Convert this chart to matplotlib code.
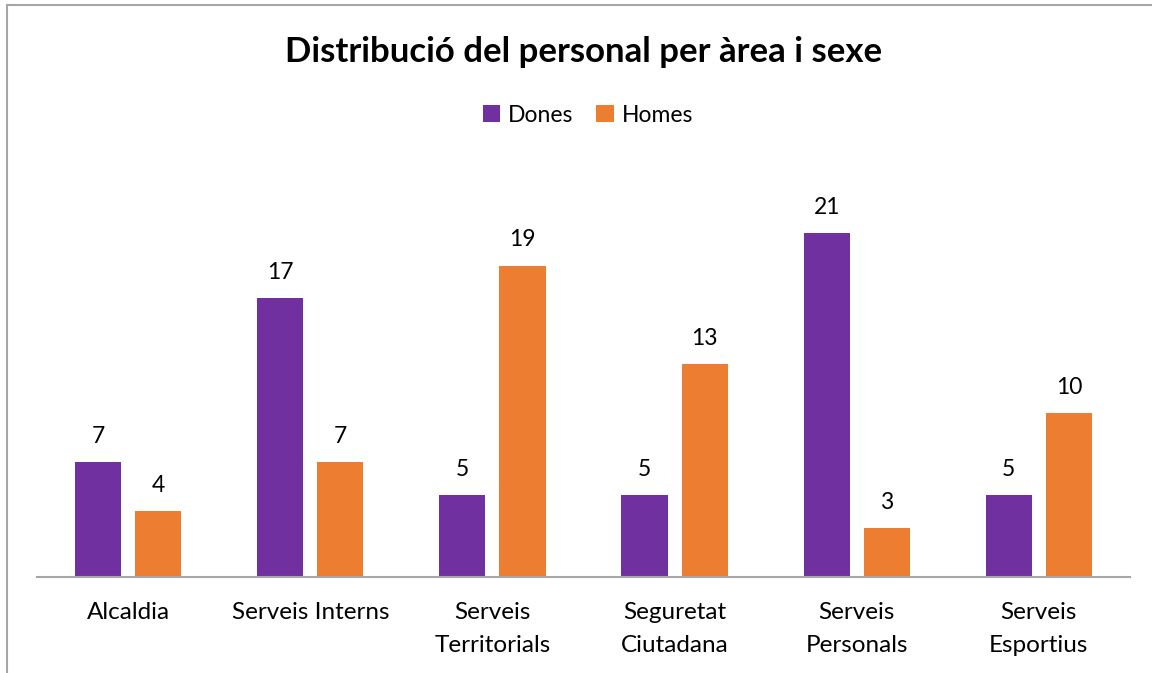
import numpy as np
import matplotlib.pyplot as plt
from matplotlib.patches import Rectangle

plt.rcParams['font.family'] = ['Lato', 'DejaVu Sans']

# Data
categories = ["Alcaldia", "Serveis Interns", "Serveis\nTerritorials",
              "Seguretat\nCiutadana", "Serveis\nPersonals", "Serveis\nEsportius"]
dones = [7, 17, 5, 5, 21, 5]
homes = [4, 7, 19, 13, 3, 10]

purple = '#7030A0'
orange = '#ED7D31'

fig = plt.figure(figsize=(11.52, 6.73), dpi=100)
ax = fig.add_axes([37 / 1152, 1 - 577 / 673, (1130 - 37) / 1152, (24 * 16.39) / 673])

# chart frame (cut off at right and bottom like the reference)
fig.patches.append(Rectangle((7 / 1152, -0.05), 1.1, 1 - 5 / 673 + 0.05,
                             transform=fig.transFigure, fill=False,
                             edgecolor='#A6A6A6', linewidth=1.5))

x = np.arange(len(categories))
w = 0.253
off = 0.165
b1 = ax.bar(x - off, dones, w, color=purple, label='Dones')
b2 = ax.bar(x + off, homes, w, color=orange, label='Homes')

for bars in (b1, b2):
    for r in bars:
        ax.annotate(f"{int(r.get_height())}", (r.get_x() + r.get_width() / 2, r.get_height()),
                    xytext=(0, 11), textcoords='offset points', ha='center', va='bottom',
                    fontsize=16.5, color='#000000')

ax.set_xlim(-0.5, len(categories) - 0.5)
ax.set_ylim(0, 24)
ax.set_yticks([])
ax.set_xticks(x)
ax.set_xticklabels(categories, fontsize=17.5, linespacing=1.72)
ax.tick_params(axis='x', length=0, pad=18)
for s in ['top', 'right', 'left']:
    ax.spines[s].set_visible(False)
ax.spines['bottom'].set_color('#A6A6A6')
ax.spines['bottom'].set_linewidth(1.5)

fig.text(584 / 1152, 1 - 52 / 673, "Distribució del personal per àrea i sexe",
         ha='center', va='center', fontsize=25, fontweight='bold')

fig.legend(handles=[b1, b2], loc='center', bbox_to_anchor=(588 / 1152, 1 - 115 / 673),
           ncol=2, frameon=False, fontsize=16.5, handlelength=0.75, handleheight=0.75,
           handletextpad=0.35, columnspacing=1.0)

fig.savefig('out.png', dpi=100)
